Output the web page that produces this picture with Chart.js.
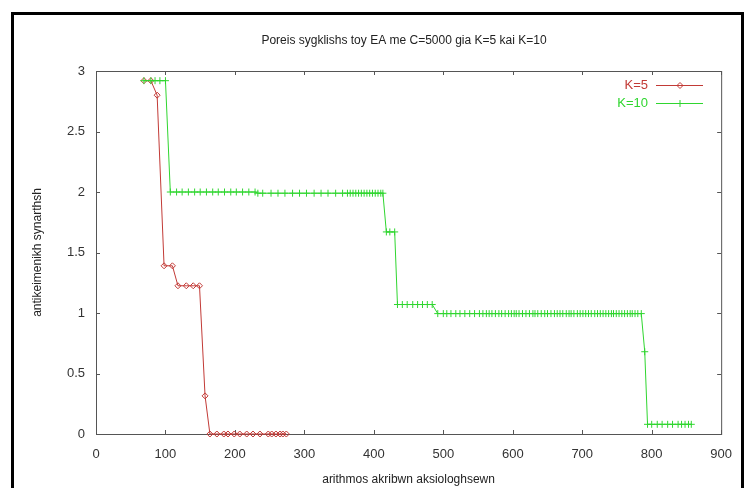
<!DOCTYPE html>
<html>
<head>
<meta charset="utf-8">
<title>Poreis sygklishs</title>
<script src="https://cdn.jsdelivr.net/npm/chart.js@4/dist/chart.umd.min.js"></script>
<style>
  html, body { margin: 0; padding: 0; background: #fff; overflow: hidden; }
  #wrap { position: relative; width: 745px; height: 488px; overflow: hidden; }
  #plot { position: absolute; left: 0; top: 0; }
  #outline { position: absolute; left: 11px; top: 12px; width: 733px; height: 500px;
             border: 3px solid #000; box-sizing: border-box; pointer-events: none; }
</style>
</head>
<body>
<div id="wrap">
  <canvas id="plot" width="745" height="488"></canvas>
  <div id="outline"></div>
</div>
<script>
// Convergence runs: objective value vs number of exact evaluations
const chartTitle = 'Poreis sygklishs toy EA me C=5000 gia K=5 kai K=10';
const xTitle = 'arithmos akribwn aksiologhsewn';
const yTitle = 'antikeimenikh synarthsh';

const xTicks = [0, 100, 200, 300, 400, 500, 600, 700, 800, 900];
const yTicks = [0, 0.5, 1, 1.5, 2, 2.5, 3];

const k5Label = 'K=5';
const k5X = [69, 79, 88, 98, 110, 118, 130, 140, 149, 157, 164, 174, 184, 190, 199,
             207, 217, 226, 236, 248, 253, 259, 265, 269, 274];
const k5Y = [2.92, 2.92, 2.8, 1.39, 1.39, 1.225, 1.225, 1.225, 1.225, 0.315, 0, 0, 0, 0, 0,
             0, 0, 0, 0, 0, 0, 0, 0, 0, 0];

const k10Label = 'K=10';
const k10X = [69, 79, 85, 92, 100,
              107, 116, 124, 133, 142, 150, 159, 168, 176, 185, 194, 202, 211, 220, 229,
              233, 240, 252, 262, 272, 283, 293, 303, 314, 324, 334, 345, 355, 362, 366,
              370, 374, 378, 382, 386, 390, 394, 398, 402, 406, 410, 413,
              418, 423, 430,
              434, 441, 448, 456, 463, 470, 477, 484,
              492, 500, 505, 511, 518, 524, 531, 538, 545, 552, 557, 562, 566, 570, 575,
              580, 584, 589, 594, 598, 602, 605, 609, 614, 619, 624, 629, 632, 636, 641,
              646, 650, 655, 660, 664, 668, 672, 677, 681, 684, 688, 693, 697, 701, 705,
              709, 713, 718, 722, 726, 730, 734, 738, 742, 745, 749, 753, 757, 761, 765,
              769, 772, 776, 780, 785,
              790,
              794, 800, 808, 815, 823, 830, 838, 843, 848, 853, 857];
const k10Y = [2.92, 2.92, 2.92, 2.92, 2.92,
              2.0, 2.0, 2.0, 2.0, 2.0, 2.0, 2.0, 2.0, 2.0, 2.0, 2.0, 2.0, 2.0, 2.0, 2.0,
              1.99, 1.99, 1.99, 1.99, 1.99, 1.99, 1.99, 1.99, 1.99, 1.99, 1.99, 1.99, 1.99, 1.99, 1.99,
              1.99, 1.99, 1.99, 1.99, 1.99, 1.99, 1.99, 1.99, 1.99, 1.99, 1.99, 1.99,
              1.67, 1.67, 1.67,
              1.07, 1.07, 1.07, 1.07, 1.07, 1.07, 1.07, 1.07,
              0.995, 0.995, 0.995, 0.995, 0.995, 0.995, 0.995, 0.995, 0.995, 0.995, 0.995, 0.995, 0.995, 0.995, 0.995,
              0.995, 0.995, 0.995, 0.995, 0.995, 0.995, 0.995, 0.995, 0.995, 0.995, 0.995, 0.995, 0.995, 0.995, 0.995,
              0.995, 0.995, 0.995, 0.995, 0.995, 0.995, 0.995, 0.995, 0.995, 0.995, 0.995, 0.995, 0.995, 0.995, 0.995,
              0.995, 0.995, 0.995, 0.995, 0.995, 0.995, 0.995, 0.995, 0.995, 0.995, 0.995, 0.995, 0.995, 0.995, 0.995,
              0.995, 0.995, 0.995, 0.995, 0.995,
              0.68,
              0.08, 0.08, 0.08, 0.08, 0.08, 0.08, 0.08, 0.08, 0.08, 0.08, 0.08];

const RED = '#c23a36';
const GREEN = '#2fd62f';
const FONT = '"Liberation Sans", Arial, sans-serif';

const toPoints = (xs, ys) => xs.map((x, i) => ({ x: x, y: ys[i] }));

// Gnuplot-style frame: box around the plot with inward ticks on all four sides
const framePlugin = {
  id: 'frame',
  beforeDatasetsDraw(chart) {
    const { ctx, chartArea: a, scales } = chart;
    ctx.save();
    ctx.strokeStyle = '#555';
    ctx.lineWidth = 1;
    ctx.strokeRect(a.left + 0.5, a.top + 0.5, a.right - a.left, a.bottom - a.top);
    ctx.beginPath();
    const tl = 4;
    xTicks.forEach(v => {
      const px = Math.round(scales.x.getPixelForValue(v)) + 0.5;
      ctx.moveTo(px, a.bottom); ctx.lineTo(px, a.bottom - tl);
      ctx.moveTo(px, a.top); ctx.lineTo(px, a.top + tl);
    });
    yTicks.forEach(v => {
      const py = Math.round(scales.y.getPixelForValue(v)) + 0.5;
      ctx.moveTo(a.left, py); ctx.lineTo(a.left + tl, py);
      ctx.moveTo(a.right, py); ctx.lineTo(a.right - tl, py);
    });
    ctx.stroke();
    ctx.restore();
  },
  afterDraw(chart) {
    const { ctx } = chart;
    ctx.save();
    // title
    ctx.fillStyle = '#222';
    ctx.font = '12px ' + FONT;
    ctx.textAlign = 'center';
    ctx.textBaseline = 'middle';
    ctx.fillText(chartTitle, 404, 41);
    // key: label text on the left, line sample with marker on the right
    const entries = [
      { label: k5Label, color: RED, style: 'rectRot', r: 3, y: 85 },
      { label: k10Label, color: GREEN, style: 'cross', r: 3.5, y: 103 }
    ];
    entries.forEach(e => {
      ctx.font = '13px ' + FONT;
      ctx.fillStyle = e.color;
      ctx.textAlign = 'right';
      ctx.textBaseline = 'middle';
      ctx.fillText(e.label, 648, e.y);
      ctx.strokeStyle = e.color;
      ctx.lineWidth = 1;
      ctx.beginPath();
      ctx.moveTo(656, e.y + 0.5);
      ctx.lineTo(703, e.y + 0.5);
      ctx.stroke();
      ctx.fillStyle = 'rgba(0,0,0,0)';
      Chart.helpers.drawPoint(ctx, { pointStyle: e.style, radius: e.r, borderWidth: 1, rotation: 0 }, 680, e.y + 0.5);
    });
    ctx.restore();
  }
};

new Chart(document.getElementById('plot'), {
  type: 'scatter',
  data: {
    datasets: [
      {
        label: k5Label,
        data: toPoints(k5X, k5Y),
        showLine: true,
        borderColor: RED,
        backgroundColor: 'rgba(0,0,0,0)',
        borderWidth: 1,
        pointStyle: 'rectRot',
        pointRadius: 3,
        pointBorderWidth: 1,
        pointBorderColor: RED,
        pointBackgroundColor: 'rgba(0,0,0,0)',
        tension: 0,
        clip: false,
        order: 1
      },
      {
        label: k10Label,
        data: toPoints(k10X, k10Y),
        showLine: true,
        borderColor: GREEN,
        backgroundColor: 'rgba(0,0,0,0)',
        borderWidth: 1,
        pointStyle: 'cross',
        pointRadius: 3.5,
        pointBorderWidth: 1,
        pointBorderColor: GREEN,
        tension: 0,
        clip: false,
        order: 0
      }
    ]
  },
  options: {
    responsive: false,
    animation: false,
    events: [],
    layout: { padding: { left: 0, top: 71, right: 23, bottom: 0 } },
    plugins: {
      legend: { display: false },
      title: { display: false },
      tooltip: { enabled: false }
    },
    scales: {
      x: {
        type: 'linear',
        min: 0,
        max: 900,
        afterBuildTicks: s => { s.ticks = xTicks.map(v => ({ value: v })); },
        afterFit: s => { s.height = 54; },
        grid: { display: false, drawTicks: false },
        border: { display: false },
        ticks: { padding: 13, color: '#333', font: { family: FONT, size: 13 },
                 callback: v => String(v) },
        title: { display: true, text: xTitle, color: '#222',
                 font: { family: FONT, size: 12 }, padding: { top: 0, bottom: 1 } }
      },
      y: {
        type: 'linear',
        min: 0,
        max: 3,
        afterBuildTicks: s => { s.ticks = yTicks.map(v => ({ value: v })); },
        afterFit: s => { s.width = 96; },
        grid: { display: false, drawTicks: false },
        border: { display: false },
        ticks: { padding: 11, color: '#333', font: { family: FONT, size: 13 },
                 callback: v => String(v) },
        title: { display: true, text: yTitle, color: '#222',
                 font: { family: FONT, size: 12 }, padding: { top: 30, bottom: 0 } }
      }
    }
  },
  plugins: [framePlugin]
});
</script>
</body>
</html>
